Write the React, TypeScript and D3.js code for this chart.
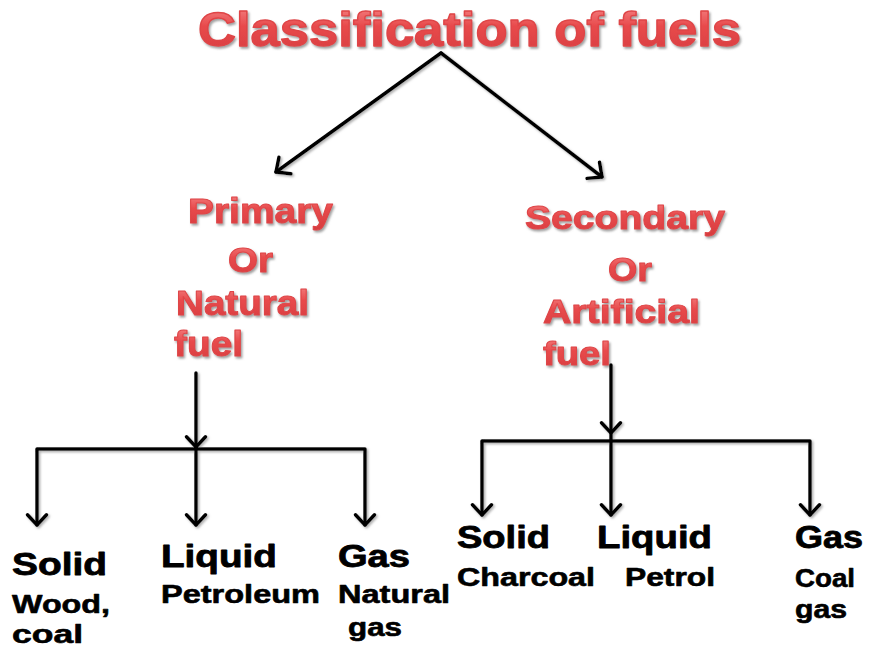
import { useRef, useEffect } from "react";
import * as d3 from "d3";

// text content
const titleText = "Classification of fuels";
const primaryLines = ["Primary", "Or", "Natural", "fuel"];
const secondaryLines = ["Secondary", "Or", "Artificial", "fuel"];
const fuelStates = ["Solid", "Liquid", "Gas"];
const primaryExamples = [["Wood,", "coal"], ["Petroleum"], ["Natural", "gas"]];
const secondaryExamples = [["Charcoal"], ["Petrol"], ["Coal", "gas"]];

// layout: [x, baseline, width, fontSize]
type Box = [number, number, number, number];
const titleBox: Box = [198, 46, 543, 49];
const primaryBoxes: Box[] = [[188, 223, 145, 35], [228, 272, 45, 35], [176, 315, 133, 35], [174, 356, 69, 35]];
const secondaryBoxes: Box[] = [[525, 229, 200, 34], [608, 281, 44, 34], [543, 323, 157, 34], [543, 365, 68, 34]];
const primaryStateBoxes: Box[] = [[12, 575, 95, 32], [161, 567, 116, 31], [338, 567, 72, 31]];
const secondaryStateBoxes: Box[] = [[457, 548, 93, 31], [597, 548, 115, 31], [795, 548, 68, 31]];
const primaryExampleBoxes: Box[][] = [
  [[12, 613, 98, 25], [12, 643, 71, 25]],
  [[161, 603, 159, 25]],
  [[338, 603, 112, 25], [348, 636, 54, 25]],
];
const secondaryExampleBoxes: Box[][] = [
  [[457, 586, 138, 25]],
  [[625, 586, 90, 25]],
  [[795, 587, 60, 25], [795, 618, 52, 25]],
];

// tree connectors
const rootApex: [number, number] = [441, 53];
const rootTips: [number, number][] = [[276, 172], [602, 177]];
const trees = [
  { stemX: 196, stemTop: 373, stemTip: 447, barY: 449, dropXs: [37, 196, 365], dropTip: 525 },
  { stemX: 611, stemTop: 365, stemTip: 433, barY: 441, dropXs: [482, 611, 810], dropTip: 515 },
];

export default function App() {
  const svgRef = useRef<SVGSVGElement>(null);

  useEffect(() => {
    const svg = d3.select(svgRef.current as SVGSVGElement);
    svg.selectAll("*").remove();

    const defs = svg.append("defs");
    const grad = defs.append("linearGradient")
      .attr("id", "redGrad")
      .attr("x1", 0).attr("y1", 0).attr("x2", 0).attr("y2", 1);
    grad.append("stop").attr("offset", "0%").attr("stop-color", "#f58a8a");
    grad.append("stop").attr("offset", "45%").attr("stop-color", "#e84a4c");
    grad.append("stop").attr("offset", "100%").attr("stop-color", "#d63c3e");

    const shadow = defs.append("filter").attr("id", "shadow")
      .attr("x", "-10%").attr("y", "-10%").attr("width", "130%").attr("height", "140%");
    shadow.append("feDropShadow")
      .attr("dx", 1.5).attr("dy", 2).attr("stdDeviation", 1)
      .attr("flood-color", "#777").attr("flood-opacity", 0.7);

    const lineShadow = defs.append("filter").attr("id", "lineShadow")
      .attr("x", "-20%").attr("y", "-20%").attr("width", "140%").attr("height", "140%");
    lineShadow.append("feDropShadow")
      .attr("dx", 1.5).attr("dy", 1.5).attr("stdDeviation", 0.8)
      .attr("flood-color", "#999").attr("flood-opacity", 0.8);

    const font = "'Liberation Sans', Arial, sans-serif";

    const drawText = (
      g: d3.Selection<SVGGElement, unknown, null, undefined>,
      text: string, box: Box, fill: string, stroke: string, sw: number
    ) => {
      g.append("text")
        .attr("x", box[0])
        .attr("y", box[1])
        .attr("textLength", box[2])
        .attr("lengthAdjust", "spacingAndGlyphs")
        .attr("font-size", box[3])
        .attr("font-family", font)
        .attr("font-weight", "bold")
        .attr("fill", fill)
        .attr("stroke", stroke)
        .attr("stroke-width", sw)
        .attr("stroke-linejoin", "round")
        .text(text);
    };

    // red headings
    const red = svg.append("g").attr("filter", "url(#shadow)");
    drawText(red, titleText, titleBox, "url(#redGrad)", "#df4547", 1.4);
    primaryLines.forEach((t, i) => drawText(red, t, primaryBoxes[i], "url(#redGrad)", "#df4547", 1));
    secondaryLines.forEach((t, i) => drawText(red, t, secondaryBoxes[i], "url(#redGrad)", "#df4547", 1));

    // arrows
    const lines = svg.append("g")
      .attr("filter", "url(#lineShadow)")
      .attr("stroke", "#000")
      .attr("stroke-width", 3.5)
      .attr("fill", "none")
      .attr("stroke-linecap", "round")
      .attr("stroke-linejoin", "round");

    const line = d3.line();
    const arrowHead = (from: [number, number], tip: [number, number], size = 12) => {
      const ang = Math.atan2(tip[1] - from[1], tip[0] - from[0]);
      const spread = Math.PI / 4.2;
      const a: [number, number] = [tip[0] - size * Math.cos(ang - spread), tip[1] - size * Math.sin(ang - spread)];
      const b: [number, number] = [tip[0] - size * Math.cos(ang + spread), tip[1] - size * Math.sin(ang + spread)];
      lines.append("path").attr("d", line([a, tip, b]));
    };

    rootTips.forEach(tip => {
      lines.append("path").attr("d", line([rootApex, tip]));
      arrowHead(rootApex, tip, 15);
    });

    trees.forEach(t => {
      lines.append("path").attr("d", line([[t.stemX, t.stemTop], [t.stemX, t.barY]]));
      arrowHead([t.stemX, t.stemTop], [t.stemX, t.stemTip], 14);
      const xs = t.dropXs;
      lines.append("path").attr("d", line([[xs[0], t.dropTip], [xs[0], t.barY], [xs[2], t.barY], [xs[2], t.dropTip]]));
      lines.append("path").attr("d", line([[xs[1], t.barY], [xs[1], t.dropTip]]));
      xs.forEach(x => arrowHead([x, t.barY], [x, t.dropTip], 14));
    });

    // black labels
    const black = svg.append("g");
    fuelStates.forEach((s, i) => {
      drawText(black, s, primaryStateBoxes[i], "#000", "#000", 0.8);
      drawText(black, s, secondaryStateBoxes[i], "#000", "#000", 0.8);
    });
    primaryExamples.forEach((ls, i) =>
      ls.forEach((t, j) => drawText(black, t, primaryExampleBoxes[i][j], "#000", "#000", 0.6)));
    secondaryExamples.forEach((ls, i) =>
      ls.forEach((t, j) => drawText(black, t, secondaryExampleBoxes[i][j], "#000", "#000", 0.6)));
  }, []);

  return (
    <svg
      ref={svgRef}
      width={872}
      height={647}
      style={{ position: "absolute", left: 0, top: 0, background: "#fff", display: "block" }}
    />
  );
}
